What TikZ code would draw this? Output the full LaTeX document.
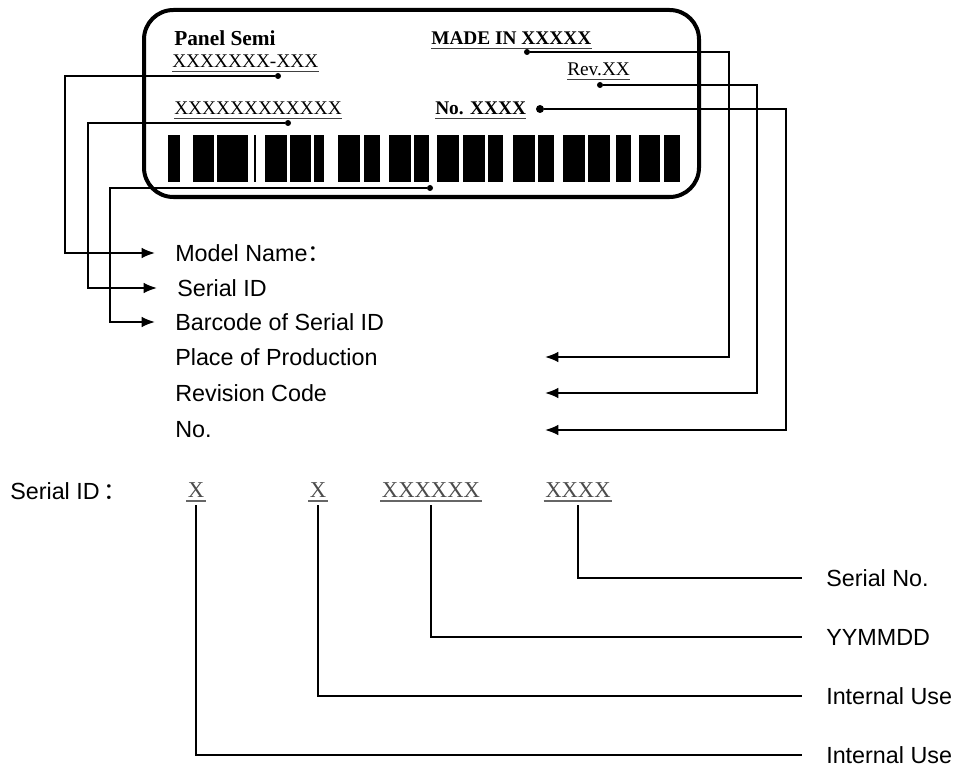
\documentclass[tikz,border=0pt]{standalone}
\usepackage{fontspec}
\setmainfont{Liberation Serif}
\newfontfamily\labelsans{Liberation Sans}
\newfontfamily\cjk{Noto Sans CJK SC}
\usetikzlibrary{arrows.meta}

\newcommand{\fwcolon}{{\cjk ：}}

\tikzset{
  conn/.style={line width=1.4pt},
  arrowconn/.style={conn, -{Latex[length=10pt,width=8pt]}},
  pin/.style={circle, fill=black, inner sep=0pt, minimum size=4.5pt},
  tagtext/.style={anchor=base west, inner sep=0pt, font=\fontsize{14.5}{16}\selectfont},
  desc/.style={anchor=west, inner sep=0pt, font=\labelsans\fontsize{17.5}{20}\selectfont},
  idpart/.style={anchor=base, inner sep=0pt, text=black!70, font=\fontsize{17}{19}\selectfont},
  uline/.style={line width=0.9pt, black!75},
}

\begin{document}
\begin{tikzpicture}[x=0.75pt, y=-0.75pt]
      \useasboundingbox (0,0) rectangle (958,767);

      % the label itself
      \draw[line width=3pt, rounded corners=22pt] (144,10) rectangle (699,197);
      \foreach \a/\b in {168/180, 193/214, 217/248, 254/255.5, 265/287, 290/311,
        314/324, 338/360, 364/380, 389/411, 414/429, 437/459, 463/485, 488/503,
        513/535, 538/554, 563/585, 588/610, 616/631, 639/660, 664/680}
        \fill (\a,135) rectangle (\b,182);

      \node[tagtext, font=\bfseries\fontsize{16}{18}\selectfont] (maker) at (174,46) {Panel Semi};
      \node[tagtext] (model) at (172,68) {XXXXXXX-XXX};
      \node[tagtext] (serial) at (174,115) {XXXXXXXXXXXX};
      \node[tagtext, font=\bfseries\fontsize{14.5}{16}\selectfont] (made) at (431,45) {MADE IN XXXXX};
      \node[tagtext] (rev) at (567,76) {Rev.XX};
      \node[tagtext, font=\bfseries\fontsize{14.5}{16}\selectfont] (number) at (435,115) {No. XXXX};
      \foreach \n in {model, serial, made, rev, number}
        \draw[uline] ([yshift=-2.6pt]\n.base west) -- ([yshift=-2.6pt]\n.base east);

      \node[pin] (dmodel) at (278,76) {};
      \node[pin] (dserial) at (288,123) {};
      \node[pin] (dbar) at (430,188) {};
      \node[pin] (dmade) at (527,52) {};
      \node[pin] (drev) at (600,85) {};
      \node[pin, minimum size=6pt] (dnumber) at (540,109) {};

      % what each field means
      \node[desc] (lmodel) at (175,253) {Model Name\fwcolon};
      \node[desc] (lserial) at (177,288) {Serial ID};
      \node[desc] (lbar) at (175,322) {Barcode of Serial ID};
      \node[desc] (lplace) at (175,357) {Place of Production};
      \node[desc] (lrev) at (175,393) {Revision Code};
      \node[desc] (lnumber) at (175,430) {No.};

      \coordinate (colA) at (65,0);
      \coordinate (colB) at (88,0);
      \coordinate (colC) at (110,0);
      \coordinate (colD) at (729,0);
      \coordinate (colE) at (757,0);
      \coordinate (colF) at (786,0);
      \coordinate (tipcol) at (545,0);

      \draw[arrowconn, shorten >=15pt] (dmodel) -- (dmodel -| colA) |- (lmodel.west);
      \draw[arrowconn, shorten >=15pt] (dserial) -- (dserial -| colB) |- (lserial.west);
      \draw[arrowconn, shorten >=15pt] (dbar) -- (dbar -| colC) |- (lbar.west);
      \draw[arrowconn] (dmade) -- (dmade -| colD) |- (lplace.west -| tipcol);
      \draw[arrowconn] (drev) -- (drev -| colE) |- (lrev.west -| tipcol);
      \draw[arrowconn] (dnumber) -- (dnumber -| colF) |- (lnumber.west -| tipcol);

      % serial id breakdown
      \node[desc] (sid) at (10,491) {Serial ID\,\fwcolon};
      \node[idpart] (pa) at (196,497) {X};
      \node[idpart] (pb) at (318,497) {X};
      \node[idpart] (pc) at (431,497) {XXXXXX};
      \node[idpart] (pd) at (578,497) {XXXX};
      \foreach \n in {pa, pb, pc, pd}
        \draw[uline, black!60] ([xshift=-1pt, yshift=-3pt]\n.base west) -- ([xshift=1pt, yshift=-3pt]\n.base east);

      \node[desc] (lsno) at (826,578) {Serial No.};
      \node[desc] (ldate) at (826,637) {YYMMDD};
      \node[desc] (luseb) at (826,696) {Internal Use};
      \node[desc] (lusea) at (826,755) {Internal Use};

      \draw[conn, line width=1.6pt, shorten <=6pt, shorten >=18pt] (pd.south) |- (lsno.west);
      \draw[conn, line width=1.6pt, shorten <=6pt, shorten >=18pt] (pc.south) |- (ldate.west);
      \draw[conn, line width=1.6pt, shorten <=6pt, shorten >=18pt] (pb.south) |- (luseb.west);
      \draw[conn, line width=1.6pt, shorten <=6pt, shorten >=18pt] (pa.south) |- (lusea.west);
\end{tikzpicture}
\end{document}
